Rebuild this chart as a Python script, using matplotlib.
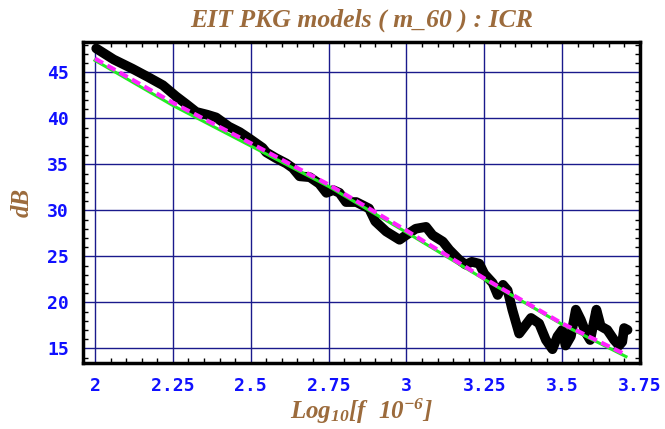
import matplotlib
matplotlib.use("Agg")
import matplotlib.pyplot as plt
from matplotlib.ticker import MultipleLocator

# measured curve (black)
meas_x = [2.004, 2.06, 2.12, 2.17, 2.218, 2.26, 2.295, 2.325, 2.36, 2.389, 2.43, 2.465,
          2.496, 2.538, 2.55, 2.58, 2.614, 2.635, 2.657, 2.69, 2.72, 2.743, 2.765, 2.785,
          2.806, 2.839, 2.88, 2.90, 2.935, 2.978, 2.999, 3.03, 3.063, 3.084, 3.117, 3.138,
          3.17, 3.19, 3.21, 3.234, 3.25, 3.277, 3.293, 3.31, 3.325, 3.34, 3.362, 3.38,
          3.40, 3.426, 3.448, 3.469, 3.485, 3.50, 3.511, 3.528, 3.544, 3.56, 3.576, 3.59,
          3.61, 3.624, 3.645, 3.667, 3.683, 3.693, 3.699, 3.71]
meas_db = [47.6, 46.4, 45.4, 44.5, 43.6, 42.4, 41.5, 40.7, 40.4, 40.1, 39.1, 38.5,
           37.8, 36.8, 36.3, 35.7, 35.1, 34.6, 33.7, 33.6, 32.9, 31.9, 32.2, 31.9,
           30.9, 30.9, 30.2, 28.8, 27.7, 26.8, 27.3, 28.0, 28.2, 27.3, 26.6, 25.7,
           24.6, 24.1, 24.4, 24.2, 23.1, 22.1, 20.8, 21.9, 21.3, 19.2, 16.6, 17.4,
           18.3, 17.7, 15.9, 14.9, 16.3, 17.0, 15.3, 16.3, 19.2, 18.1, 16.7, 15.9,
           19.2, 17.4, 17.0, 15.9, 15.3, 15.7, 17.2, 17.0]

# model fits
fit_x = [2.0, 2.25, 2.5, 2.75, 3.0, 3.25, 3.5, 3.705]
fit_green = [46.3, 41.4, 37.0, 32.6, 27.6, 22.5, 17.6, 14.1]
fit_magenta = [46.5, 41.7, 37.3, 32.8, 27.8, 22.6, 17.7, 14.3]

xticks = [2, 2.25, 2.5, 2.75, 3, 3.25, 3.5, 3.75]
xtick_labels = ["2", "2.25", "2.5", "2.75", "3", "3.25", "3.5", "3.75"]
yticks = [15, 20, 25, 30, 35, 40, 45]

brown = "#9c6b3c"
plt.rcParams["mathtext.fontset"] = "custom"
plt.rcParams["mathtext.rm"] = "Liberation Serif:bold:italic"
plt.rcParams["mathtext.it"] = "Liberation Serif:bold:italic"

fig = plt.figure(figsize=(6.65, 4.29), dpi=100)
ax = fig.add_axes([0.1248, 0.1538, 0.8376, 0.7483])

ax.plot(meas_x, meas_db, color="black", lw=7, solid_capstyle="round",
        solid_joinstyle="round", zorder=3)
ax.plot(fit_x, fit_green, color="#22ee22", lw=2.2, zorder=4)
ax.plot(fit_x, fit_magenta, color="#ff22ff", lw=3, ls=(0, (2.2, 1.2)), zorder=5)

ax.set_xlim(1.9615, 3.75)
ax.set_ylim(13.4, 48.3)
ax.set_xticks(xticks)
ax.set_xticklabels(xtick_labels)
ax.set_yticks(yticks)
ax.xaxis.set_minor_locator(MultipleLocator(0.05))
ax.yaxis.set_minor_locator(MultipleLocator(1))
ax.grid(True, which="major", color="#1a1a8c", lw=1)
ax.set_axisbelow(True)

ax.tick_params(which="both", direction="in", top=True, right=True,
               colors="black", labelcolor="#1010ff")
ax.tick_params(which="major", length=0, pad=10)
ax.tick_params(which="minor", length=3.5, width=1)
for lab in ax.get_xticklabels() + ax.get_yticklabels():
    lab.set_family("DejaVu Sans Mono")
    lab.set_fontweight("bold")
    lab.set_fontsize(13)
for s in ax.spines.values():
    s.set_linewidth(2.5)
    s.set_zorder(6)

ax.set_title("EIT PKG models ( m_60 ) : ICR", family="Liberation Serif",
             style="italic", weight="bold", color=brown, fontsize=18.5, pad=11)
ax.set_xlabel(r"$Log_{10}[f\ \ 10^{-6}]$", color=brown, fontsize=18, labelpad=1)
ax.set_ylabel("dB", family="Liberation Serif", style="italic", weight="bold",
              color=brown, fontsize=18, labelpad=10)

fig.savefig("out.png", dpi=100)
plt.close(fig)
